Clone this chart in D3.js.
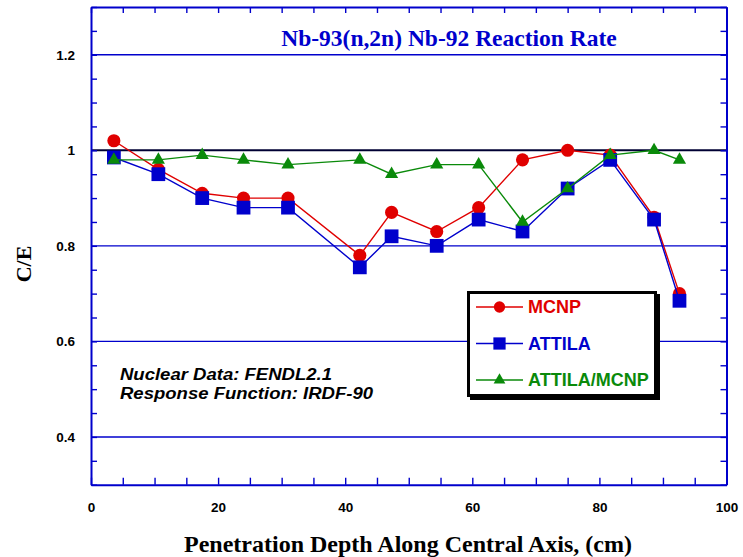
<!DOCTYPE html>
<html>
<head>
<meta charset="utf-8">
<script src="https://cdn.jsdelivr.net/npm/d3@7"></script>
<style>
html,body{margin:0;padding:0;background:#fff;}
svg{display:block;}
</style>
</head>
<body>
<svg id="chart" width="743" height="557"></svg>
<script>
// ---- data ----
const depth   = [3.6, 10.6, 17.5, 24.0, 31.0, 42.3, 47.3, 54.4, 61.0, 67.9, 75.0, 81.7, 88.6, 92.6];
const mcnp    = [1.02, 0.96, 0.91, 0.90, 0.90, 0.78, 0.87, 0.83, 0.88, 0.98, 1.00, 0.99, 0.86, 0.70];
const attila  = [0.985, 0.95, 0.90, 0.88, 0.88, 0.755, 0.82, 0.80, 0.855, 0.83, 0.92, 0.98, 0.855, 0.685];
const ratio   = [0.98, 0.98, 0.99, 0.98, 0.97, 0.98, 0.95, 0.97, 0.97, 0.85, 0.92, 0.99, 1.00, 0.98];
const seriesNames = ["MCNP", "ATTILA", "ATTILA/MCNP"];
const xTickLabels = [0, 20, 40, 60, 80, 100];
const yTickLabels = [0.4, 0.6, 0.8, 1, 1.2];
const titleText = "Nb-93(n,2n) Nb-92 Reaction Rate";
const xTitle = "Penetration Depth Along Central Axis, (cm)";
const yTitle = "C/E";
const notes = ["Nuclear Data: FENDL2.1", "Response Function: IRDF-90"];

// ---- layout ----
const svg = d3.select("#chart");
const L = 91, R = 726.5, T = 7, B = 484.7;
const x = d3.scaleLinear().domain([0, 100]).range([L, R]);
const y = d3.scaleLinear().domain([0.3, 1.3]).range([B, T]);

const BLUE = "#0000cc", RED = "#e00000", GREEN = "#0a8a0a";

// gridlines
const grid = svg.append("g");
yTickLabels.forEach(v => {
  grid.append("line")
    .attr("x1", L).attr("x2", R).attr("y1", y(v)).attr("y2", y(v))
    .attr("stroke", v === 1 ? "#000033" : BLUE)
    .attr("stroke-width", v === 1 ? 2 : 1.4);
});

const minorX = d3.range(0, 100.01, 5);
const minorY = d3.range(0.3, 1.3001, 0.05).map(v => +v.toFixed(2));

// left axis (labels + inward ticks)
const leftAxis = svg.append("g").attr("transform", `translate(${L},0)`)
  .call(d3.axisLeft(y).tickValues(minorY).tickSizeInner(-6).tickSizeOuter(0).tickPadding(16)
    .tickFormat(d => yTickLabels.some(v => Math.abs(v - d) < 1e-6) ? d3.format("")(d) : ""));
// bottom axis
const bottomAxis = svg.append("g").attr("transform", `translate(0,${B})`)
  .call(d3.axisBottom(x).tickValues(minorX).tickSizeInner(-7).tickSizeOuter(0).tickPadding(18)
    .tickFormat(d => xTickLabels.includes(d) ? d : ""));
// top axis
const topAxis = svg.append("g").attr("transform", `translate(0,${T})`)
  .call(d3.axisTop(x).tickValues(minorX).tickSizeInner(-6).tickSizeOuter(0).tickFormat(""));
// right axis
const rightAxis = svg.append("g").attr("transform", `translate(${R},0)`)
  .call(d3.axisRight(y).tickValues(minorY).tickSizeInner(-6).tickSizeOuter(0).tickFormat(""));

[leftAxis, bottomAxis, topAxis, rightAxis].forEach(g => {
  g.select(".domain").attr("stroke", BLUE).attr("stroke-width", 2);
  g.selectAll(".tick line").attr("stroke", BLUE).attr("stroke-width", 1.4);
  g.selectAll(".tick text").attr("fill", "#000")
    .style("font-family", "'Liberation Sans', Arial, sans-serif")
    .style("font-weight", "bold").style("font-size", "13.5px");
});

// title
svg.append("text").attr("x", 449).attr("y", 46)
  .attr("text-anchor", "middle")
  .style("font-family", "'Liberation Serif', 'Times New Roman', serif")
  .style("font-weight", "bold").style("font-size", "23.5px")
  .attr("fill", BLUE).text(titleText);

// axis titles
svg.append("text").attr("x", 408).attr("y", 552)
  .attr("text-anchor", "middle")
  .style("font-family", "'Liberation Serif', 'Times New Roman', serif")
  .style("font-weight", "bold").style("font-size", "24px")
  .attr("fill", "#000").text(xTitle);
svg.append("text").attr("transform", "translate(31,264) rotate(-90)")
  .attr("text-anchor", "middle")
  .style("font-family", "'Liberation Serif', 'Times New Roman', serif")
  .style("font-weight", "bold").style("font-size", "22px")
  .attr("fill", "#000").text(yTitle);

// notes
const ng = svg.append("g").attr("transform", "translate(120,0) scale(1.09,1)");
notes.forEach((t, i) => {
  ng.append("text").attr("x", 0).attr("y", 380 + i * 19.5)
    .style("font-family", "'Liberation Sans', Arial, sans-serif")
    .style("font-weight", "bold").style("font-style", "italic").style("font-size", "17px")
    .attr("fill", "#000").text(t);
});

// series
const series = [
  {name: seriesNames[0], vals: mcnp, color: RED, sym: d3.symbolCircle, size: 135},
  {name: seriesNames[1], vals: attila, color: BLUE, sym: d3.symbolSquare, size: 190},
  {name: seriesNames[2], vals: ratio, color: GREEN, sym: d3.symbolTriangle, size: 75}
];
const line = d3.line().x(d => x(d[0])).y(d => y(d[1]));
series.forEach(s => {
  const pts = depth.map((d, i) => [d, s.vals[i]]);
  const g = svg.append("g");
  g.append("path").attr("d", line(pts)).attr("fill", "none")
    .attr("stroke", s.color).attr("stroke-width", 1.4);
  g.selectAll("path.m").data(pts).enter().append("path").attr("class", "m")
    .attr("transform", d => `translate(${x(d[0])},${y(d[1])})`)
    .attr("d", d3.symbol().type(s.sym).size(s.size)())
    .attr("fill", s.color);
});

// legend
const lg = svg.append("g");
lg.append("rect").attr("x", 470).attr("y", 294).attr("width", 190).attr("height", 106).attr("fill", "#000");
lg.append("rect").attr("x", 468.5).attr("y", 292.5).attr("width", 187).attr("height", 103)
  .attr("fill", "#fff").attr("stroke", "#000").attr("stroke-width", 3);
const legendSizes = [100, 150, 60];
series.forEach((s, i) => {
  const ly = 307 + i * 36.5;
  lg.append("line").attr("x1", 476).attr("x2", 523).attr("y1", ly).attr("y2", ly)
    .attr("stroke", s.color).attr("stroke-width", 1.3);
  lg.append("path").attr("transform", `translate(499.5,${ly})`)
    .attr("d", d3.symbol().type(s.sym).size(legendSizes[i])()).attr("fill", s.color);
  lg.append("text").attr("x", 528).attr("y", ly + 6)
    .style("font-family", "'Liberation Sans', Arial, sans-serif")
    .style("font-weight", "bold").style("font-size", "18px")
    .attr("fill", s.color).text(s.name);
});
</script>
</body>
</html>
